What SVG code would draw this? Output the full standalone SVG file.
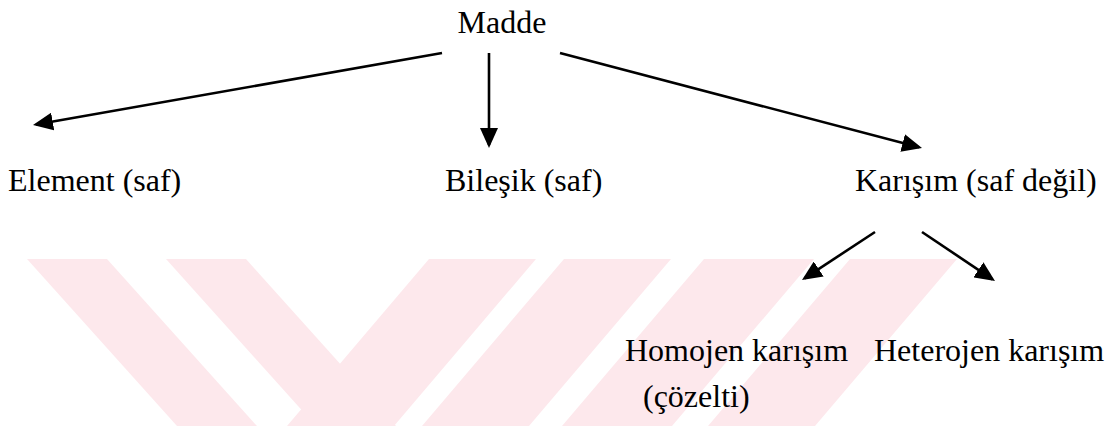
<svg xmlns="http://www.w3.org/2000/svg" width="1120" height="426" viewBox="0 0 1120 426">
  <style>
    text { font-family: 'Liberation Serif', 'DejaVu Serif', 'Times New Roman', serif; font-size: 32px; fill: #000; }
    .wm { fill: #fde8ec; stroke: none; }
    .edge { stroke: #000; stroke-width: 2.6; fill: none; marker-end: url(#arrow); }
  </style>
  <defs>
    <marker id="arrow" markerUnits="userSpaceOnUse" markerWidth="20" markerHeight="18" viewBox="0 0 20 18" refX="17" refY="9" orient="auto">
      <path d="M0,0 L20,9 L0,18 z" fill="#000"/>
    </marker>
  </defs>
  <rect width="1120" height="426" fill="#fff"/>
  <g id="watermark">
    <polygon class="wm" points="27,259 107,259 257,426 177,426"/>
    <polygon class="wm" points="166,259 246,259 396,426 316,426"/>
    <polygon class="wm" points="429,259 536,259 394,426 287,426"/>
    <polygon class="wm" points="564,259 671,259 529,426 422,426"/>
    <polygon class="wm" points="704,259 814,259 672,426 562,426"/>
    <polygon class="wm" points="850,259 957,259 815,426 708,426"/>
  </g>
  <g id="connectors">
    <line class="edge" x1="442" y1="53" x2="35.95" y2="124.48"/>
    <line class="edge" x1="489" y1="53" x2="489" y2="145"/>
    <line class="edge" x1="560" y1="53" x2="919.1" y2="147.24"/>
    <line class="edge" x1="875" y1="232" x2="804.5" y2="278.35"/>
    <line class="edge" x1="922" y1="232" x2="992.5" y2="279.3"/>
  </g>
  <g id="madde"><text x="502" y="33" text-anchor="middle" font-family="Liberation Serif, serif">Madde</text></g>
  <g id="element"><text x="8" y="191" font-family="Liberation Serif, serif">Element (saf)</text></g>
  <g id="bilesik"><text x="445" y="191" font-family="Liberation Serif, serif">Bileşik (saf)</text></g>
  <g id="karisim"><text x="855" y="191" font-family="Liberation Serif, serif">Karışım (saf değil)</text></g>
  <g id="homojen">
    <text x="625" y="361" font-family="Liberation Serif, serif">Homojen karışım</text>
    <text x="643" y="407" font-family="Liberation Serif, serif">(çözelti)</text>
  </g>
  <g id="heterojen"><text x="874" y="361" font-family="Liberation Serif, serif">Heterojen karışım</text></g>
</svg>
